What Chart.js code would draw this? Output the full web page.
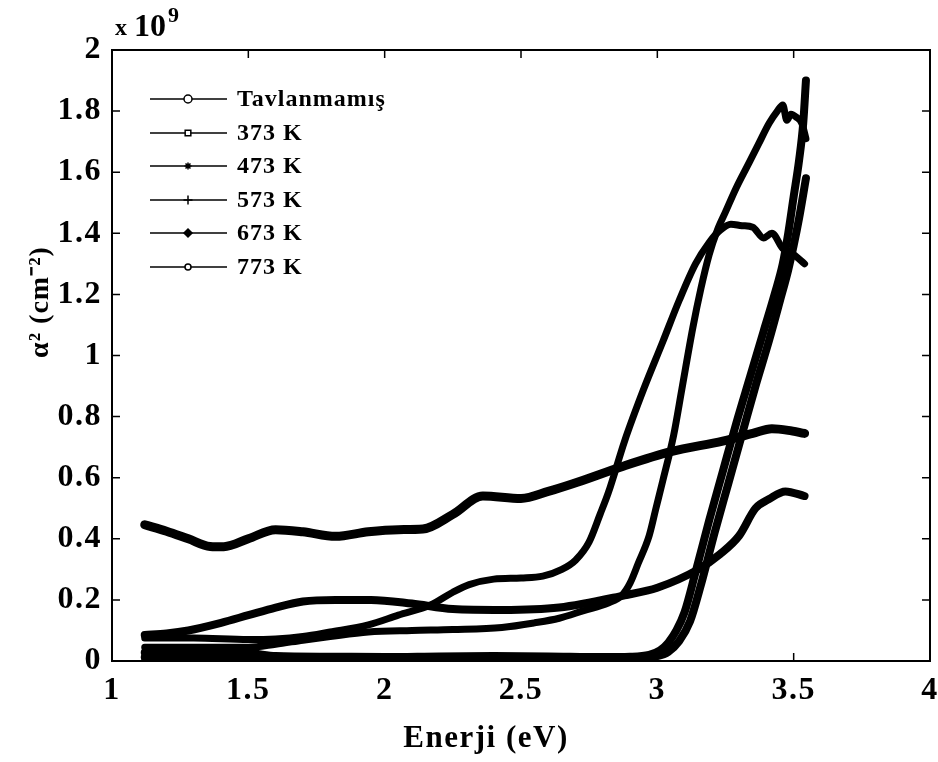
<!DOCTYPE html>
<html><head><meta charset="utf-8">
<script src="https://cdn.jsdelivr.net/npm/chart.js@4.4.1/dist/chart.umd.min.js"></script>
<style>html,body{margin:0;padding:0;background:#fff}#wrap{width:938px;height:762px}canvas{display:block}</style>
</head><body><div id="wrap"><canvas id="c" width="938" height="762"></canvas></div>
<script>
// ---- data ----
const seriesNames = ['Tavlanmamış', '373 K', '473 K', '573 K', '673 K', '773 K'];

const xTav = [1.12, 1.2, 1.35, 1.5, 1.6, 1.8, 2.0, 2.2, 2.4, 2.6, 2.8, 2.9, 2.97, 3.01, 3.04, 3.07, 3.1, 3.14, 3.19, 3.24, 3.29, 3.34, 3.39, 3.43, 3.46, 3.48, 3.5, 3.52, 3.535, 3.545];
const yTav = [0.028, 0.028, 0.027, 0.026, 0.016, 0.014, 0.013, 0.015, 0.016, 0.015, 0.013, 0.014, 0.02, 0.035, 0.06, 0.1, 0.16, 0.29, 0.46, 0.62, 0.78, 0.93, 1.08, 1.2, 1.3, 1.4, 1.52, 1.64, 1.76, 1.9];

const x373 = [1.12, 1.3, 1.5, 1.7, 2.0, 2.3, 2.6, 2.8, 2.95, 3.0, 3.04, 3.08, 3.12, 3.16, 3.21, 3.26, 3.31, 3.36, 3.41, 3.45, 3.48, 3.5, 3.52, 3.545];
const y373 = [0.012, 0.01, 0.006, 0.008, 0.01, 0.012, 0.012, 0.01, 0.012, 0.016, 0.03, 0.065, 0.13, 0.25, 0.42, 0.58, 0.74, 0.9, 1.05, 1.18, 1.28, 1.36, 1.45, 1.58];

const x473 = [1.12, 1.3, 1.5, 1.6, 1.7, 1.8, 1.94, 2.05, 2.17, 2.25, 2.31, 2.4, 2.5, 2.58, 2.65, 2.7, 2.75, 2.79, 2.82, 2.88, 2.95, 3.02, 3.08, 3.14, 3.19, 3.23, 3.27, 3.31, 3.35, 3.39, 3.42, 3.46, 3.5, 3.54];
const y473 = [0.075, 0.075, 0.07, 0.072, 0.08, 0.095, 0.118, 0.15, 0.184, 0.225, 0.25, 0.268, 0.272, 0.278, 0.3, 0.33, 0.39, 0.48, 0.55, 0.72, 0.89, 1.045, 1.18, 1.3, 1.37, 1.41, 1.43, 1.425, 1.42, 1.385, 1.4, 1.35, 1.33, 1.3];

const x573 = [1.12, 1.3, 1.5, 1.6, 1.7, 1.8, 1.94, 2.1, 2.25, 2.43, 2.55, 2.64, 2.73, 2.82, 2.87, 2.9, 2.93, 2.97, 2.995, 3.02, 3.06, 3.09, 3.13, 3.16, 3.19, 3.22, 3.25, 3.29, 3.33, 3.37, 3.41, 3.44, 3.46, 3.475, 3.49, 3.51, 3.53, 3.545];
const y573 = [0.045, 0.045, 0.045, 0.055, 0.068, 0.08, 0.095, 0.1, 0.103, 0.11, 0.125, 0.14, 0.165, 0.19, 0.215, 0.255, 0.32, 0.41, 0.5, 0.59, 0.74, 0.89, 1.09, 1.22, 1.33, 1.41, 1.47, 1.55, 1.62, 1.69, 1.76, 1.8, 1.82, 1.77, 1.79, 1.78, 1.76, 1.71];

const x673 = [1.12, 1.2, 1.28, 1.36, 1.41, 1.5, 1.6, 1.7, 1.82, 1.94, 2.05, 2.14, 2.25, 2.36, 2.5, 2.6, 2.69, 2.87, 3.05, 3.24, 3.35, 3.42, 3.48, 3.54];
const y673 = [0.446, 0.425, 0.4, 0.375, 0.374, 0.4, 0.43, 0.423, 0.408, 0.423, 0.43, 0.432, 0.48, 0.54, 0.532, 0.555, 0.58, 0.636, 0.685, 0.72, 0.745, 0.76, 0.755, 0.745];

const x773 = [1.12, 1.2, 1.28, 1.4, 1.5, 1.6, 1.7, 1.82, 1.95, 2.1, 2.25, 2.43, 2.64, 2.88, 3.0, 3.15, 3.23, 3.3, 3.36, 3.41, 3.47, 3.54];
const y773 = [0.085, 0.09, 0.1, 0.125, 0.15, 0.175, 0.195, 0.2, 0.2, 0.188, 0.17, 0.167, 0.175, 0.215, 0.24, 0.3, 0.35, 0.41, 0.5, 0.53, 0.555, 0.54];

const xTickValues = [1, 1.5, 2, 2.5, 3, 3.5, 4];
const xTickLabels = ['1', '1.5', '2', '2.5', '3', '3.5', '4'];
const yTickValues = [0, 0.2, 0.4, 0.6, 0.8, 1, 1.2, 1.4, 1.6, 1.8, 2];
const yTickLabels = ['0', '0.2', '0.4', '0.6', '0.8', '1', '1.2', '1.4', '1.6', '1.8', '2'];

const xTitle = 'Enerji (eV)';
const yTitle = 'α² (cm⁻²)';

// ---- build ----
const FONT = '"Liberation Serif", "Times New Roman", serif';
const pairs = (xs, ys) => xs.map((x, i) => ({ x: x, y: ys[i] }));
const seriesX = [xTav, x373, x473, x573, x673, x773];
const seriesY = [yTav, y373, y473, y573, y673, y773];
const markerStyle = ['circle', 'rect', 'star', 'cross', 'rectRot', 'circle'];
const markerFill = ['#fff', '#fff', '#000', '#000', '#000', '#fff'];
const markerRadius = [4, 4, 3.5, 4.5, 4, 3];
const lineWidths = [8, 8, 7, 7, 9, 8];

const datasets = seriesNames.map((name, i) => ({
  label: name,
  data: pairs(seriesX[i], seriesY[i]),
  showLine: true,
  borderColor: '#000',
  backgroundColor: markerFill[i],
  borderWidth: lineWidths[i],
  borderCapStyle: 'round',
  borderJoinStyle: 'round',
  pointRadius: 0,
  pointStyle: markerStyle[i],
  cubicInterpolationMode: 'monotone',
  fill: false
}));

const decor = {
  id: 'decor',
  beforeDraw(chart) { chart.ctx.letterSpacing = '1.5px'; },
  afterDraw(chart) {
    const ctx = chart.ctx, a = chart.chartArea, xs = chart.scales.x, ys = chart.scales.y;
    ctx.save();
    ctx.letterSpacing = '0px';
    ctx.strokeStyle = '#000';
    ctx.fillStyle = '#000';
    ctx.lineWidth = 2;
    ctx.strokeRect(a.left, a.top, a.right - a.left, a.bottom - a.top);
    ctx.lineWidth = 1.5;
    ctx.beginPath();
    xTickValues.forEach(v => {
      const px = xs.getPixelForValue(v);
      ctx.moveTo(px, a.bottom); ctx.lineTo(px, a.bottom - 8);
      ctx.moveTo(px, a.top); ctx.lineTo(px, a.top + 8);
    });
    yTickValues.forEach(v => {
      const py = ys.getPixelForValue(v);
      ctx.moveTo(a.left, py); ctx.lineTo(a.left + 8, py);
      ctx.moveTo(a.right, py); ctx.lineTo(a.right - 8, py);
    });
    ctx.stroke();

    // legend (line + marker + label)
    const rows = [99, 133, 166, 200, 233, 267];
    chart.data.datasets.forEach((ds, i) => {
      const y = rows[i];
      ctx.strokeStyle = '#000';
      ctx.lineWidth = 1.5;
      ctx.beginPath(); ctx.moveTo(150, y); ctx.lineTo(227, y); ctx.stroke();
      ctx.fillStyle = markerFill[i];
      Chart.helpers.drawPoint(ctx, { pointStyle: markerStyle[i], radius: markerRadius[i], borderWidth: 1.5, rotation: 0 }, 188, y);
      ctx.fillStyle = '#000';
      ctx.font = 'bold 24px ' + FONT;
      ctx.letterSpacing = '1px';
      ctx.textAlign = 'left';
      ctx.textBaseline = 'middle';
      ctx.fillText(ds.label, 237, y + 1);
    });

    // axis titles
    ctx.fillStyle = '#000';
    ctx.font = 'bold 31px ' + FONT;
    ctx.letterSpacing = '1.5px';
    ctx.textAlign = 'center';
    ctx.textBaseline = 'alphabetic';
    ctx.fillText(xTitle, 486, 747);

    ctx.save();
    ctx.translate(41, 302);
    ctx.rotate(-Math.PI / 2);
    ctx.font = 'bold 28px ' + FONT;
    ctx.letterSpacing = '1px';
    ctx.textAlign = 'center';
    ctx.textBaseline = 'middle';
    ctx.fillText(yTitle, 0, 0);
    ctx.restore();

    // exponent label
    ctx.textAlign = 'left';
    ctx.textBaseline = 'alphabetic';
    ctx.letterSpacing = '0px';
    ctx.font = 'bold 24px ' + FONT;
    ctx.fillText('x', 115, 35);
    ctx.font = 'bold 32px ' + FONT;
    ctx.fillText('10', 134, 36);
    ctx.font = 'bold 22px ' + FONT;
    ctx.fillText('9', 168, 22);
    ctx.restore();
    ctx.letterSpacing = '0px';
  }
};

const tickFont = { family: FONT, size: 32, weight: 'bold' };

new Chart(document.getElementById('c'), {
  type: 'scatter',
  data: { datasets: datasets },
  options: {
    responsive: false,
    animation: false,
    devicePixelRatio: 1,
    layout: { padding: { left: 0, top: 50, right: 8, bottom: 0 } },
    plugins: { legend: { display: false }, tooltip: { enabled: false } },
    scales: {
      x: {
        type: 'linear', min: 1, max: 4,
        grid: { display: false, drawTicks: false },
        border: { display: false },
        afterBuildTicks: s => { s.ticks = xTickValues.map(v => ({ value: v })); },
        afterFit: s => { s.height = 101; s.paddingLeft = 0; s.paddingRight = 0; },
        ticks: { autoSkip: false, maxRotation: 0, padding: 11, color: '#000', font: tickFont,
                 callback: (v, i) => xTickLabels[i] }
      },
      y: {
        type: 'linear', min: 0, max: 2,
        grid: { display: false, drawTicks: false },
        border: { display: false },
        afterBuildTicks: s => { s.ticks = yTickValues.map(v => ({ value: v })); },
        afterFit: s => { s.width = 112; s.paddingTop = 0; s.paddingBottom = 0; },
        ticks: { autoSkip: false, padding: 10, color: '#000', font: tickFont,
                 callback: (v, i) => yTickLabels[i] }
      }
    }
  },
  plugins: [decor]
});
</script>
</body></html>
